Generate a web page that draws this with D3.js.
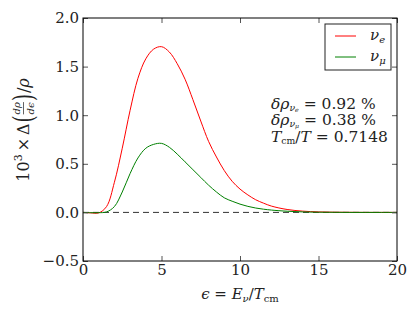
<!DOCTYPE html>
<html>
<head>
<meta charset="utf-8">
<script src="https://cdn.jsdelivr.net/npm/d3@7"></script>
<style>
  body { margin: 0; background: #fff; }
  svg { display: block; }
  svg text { font-family: "DejaVu Serif", "Liberation Serif", serif; }
</style>
</head>
<body>
<svg id="chart" width="415" height="312"></svg>
<script>
// energy grid (epsilon = E_nu / T_cm)
const eps = [0, 0.5, 1, 1.5, 2, 2.5, 3, 3.5, 4, 4.5, 5, 5.5, 6, 6.5, 7, 7.5, 8, 8.5, 9, 9.5,
             10, 10.5, 11, 11.5, 12, 13, 14, 15, 16, 17, 18, 19, 20];
// 10^3 x Delta(drho/deps)/rho
const nuE = [0, -0.005, -0.005, 0.06, 0.31, 0.66, 1.05, 1.38, 1.58, 1.68, 1.705, 1.65, 1.53, 1.37, 1.16, 0.94, 0.73, 0.57, 0.43, 0.32,
             0.24, 0.18, 0.13, 0.095, 0.065, 0.03, 0.013, 0.005, 0.002, 0.001, 0, 0, 0];
const nuMu = [0, -0.003, -0.003, 0.005, 0.06, 0.21, 0.40, 0.56, 0.66, 0.70, 0.71, 0.67, 0.60, 0.52, 0.44, 0.36, 0.28, 0.21, 0.15, 0.115,
              0.085, 0.062, 0.045, 0.033, 0.024, 0.012, 0.005, 0.002, 0.001, 0, 0, 0, 0];
const xTicks = [0, 5, 10, 15, 20];
const yTicks = [-0.5, 0, 0.5, 1.0, 1.5, 2.0];
const noteValues = ["0.92 %", "0.38 %", "0.7148"];

const svg = d3.select("#chart");
const pL = 83, pR = 397, pT = 18, pB = 261;

const x = d3.scaleLinear().domain([0, 20]).range([pL, pR]);
const y = d3.scaleLinear().domain([-0.5, 2.0]).range([pB, pT]);

// zero line
svg.append("line")
    .attr("x1", x(0)).attr("x2", x(20))
    .attr("y1", y(0)).attr("y2", y(0))
    .attr("stroke", "#333")
    .attr("stroke-width", 1)
    .attr("stroke-dasharray", "6,4");

const line = d3.line().curve(d3.curveCatmullRom);

svg.append("path")
    .attr("d", line(eps.map((e, i) => [x(e), y(nuE[i])])))
    .attr("fill", "none").attr("stroke", "#ff0000").attr("stroke-width", 1);

svg.append("path")
    .attr("d", line(eps.map((e, i) => [x(e), y(nuMu[i])])))
    .attr("fill", "none").attr("stroke", "#008000").attr("stroke-width", 1);

// axes, ticks pointing inward
function styleAxis(g) {
    g.attr("font-family", null);
    g.select(".domain").remove();
    g.selectAll(".tick line").attr("stroke", "#555");
    g.selectAll(".tick text").attr("font-size", "15px").attr("fill", "#222");
}

svg.append("g")
    .attr("transform", `translate(0,${pB})`)
    .call(d3.axisBottom(x).tickValues(xTicks).tickSizeInner(-5).tickSizeOuter(0).tickPadding(3)
        .tickFormat(d3.format("d")))
    .call(styleAxis);

svg.append("g")
    .attr("transform", `translate(0,${pT})`)
    .call(d3.axisTop(x).tickValues(xTicks).tickSizeInner(-5).tickSizeOuter(0).tickFormat(""))
    .call(styleAxis);

svg.append("g")
    .attr("transform", `translate(${pL},0)`)
    .call(d3.axisLeft(y).tickValues(yTicks).tickSizeInner(-5).tickSizeOuter(0).tickPadding(4)
        .tickFormat(d3.format(".1f")))
    .call(styleAxis);

svg.append("g")
    .attr("transform", `translate(${pR},0)`)
    .call(d3.axisRight(y).tickValues(yTicks).tickSizeInner(-5).tickSizeOuter(0).tickFormat(""))
    .call(styleAxis);

// frame
svg.append("rect")
    .attr("x", pL).attr("y", pT)
    .attr("width", pR - pL).attr("height", pB - pT)
    .attr("fill", "none").attr("stroke", "#000").attr("stroke-width", 1);

// x label
const xl = svg.append("text")
    .attr("x", (pL + pR) / 2).attr("y", 299)
    .attr("text-anchor", "middle").attr("font-size", "15px").attr("fill", "#222");
xl.append("tspan").attr("font-style", "italic").text("ϵ");
xl.append("tspan").text(" = ");
xl.append("tspan").attr("font-style", "italic").text("E");
xl.append("tspan").attr("font-style", "italic").attr("font-size", "10px").attr("dy", 3).text("ν");
xl.append("tspan").attr("dy", -3).text("/");
xl.append("tspan").attr("font-style", "italic").text("T");
xl.append("tspan").attr("font-size", "10px").attr("dy", 3).text("cm");

// y label, built piece by piece inside a rotated group
const yl = svg.append("g").attr("transform", "translate(29,130) rotate(-90)");
let cx = 0;
function piece(txt, opts) {
    const t = yl.append("text").attr("x", cx).attr("y", opts.dy || 0)
        .attr("font-size", (opts.size || 16) + "px").attr("fill", "#222")
        .attr("font-style", opts.italic ? "italic" : "normal")
        .text(txt);
    if (opts.scaleY) t.attr("transform", `translate(0,${opts.ty || 0}) scale(1,${opts.scaleY})`).attr("y", 0);
    const w = t.node().getComputedTextLength();
    cx += w + (opts.gap || 0);
    return t;
}
piece("10", {});
piece("3", { size: 11, dy: -7, gap: 3 });
piece("×", { gap: 3 });
piece("Δ", { gap: 1 });
piece("(", { size: 18, scaleY: 1.5, ty: 4 });
// stacked fraction
const fx = cx + 1;
const num = yl.append("text").attr("x", fx).attr("y", -9).attr("font-size", "10px")
    .attr("font-style", "italic").attr("fill", "#222").text("dρ");
const den = yl.append("text").attr("x", fx).attr("y", 5).attr("font-size", "10px")
    .attr("font-style", "italic").attr("fill", "#222").text("dϵ");
const fw = Math.max(num.node().getComputedTextLength(), den.node().getComputedTextLength());
yl.append("line").attr("x1", fx).attr("x2", fx + fw)
    .attr("y1", -5.5).attr("y2", -5.5).attr("stroke", "#222").attr("stroke-width", 0.7);
cx = fx + fw + 1;
piece(")", { size: 18, scaleY: 1.5, ty: 4, gap: 1 });
piece("/", {});
piece("ρ", { italic: true });
const total = cx;
yl.selectAll("text, line").each(function () {
    const el = d3.select(this);
    if (this.tagName === "line") {
        el.attr("x1", +el.attr("x1") - total / 2).attr("x2", +el.attr("x2") - total / 2);
    } else {
        el.attr("x", +el.attr("x") - total / 2);
    }
});

// legend
const legend = svg.append("g");
legend.append("rect")
    .attr("x", 325).attr("y", 24).attr("width", 66).attr("height", 46)
    .attr("fill", "#fff").attr("stroke", "#222").attr("stroke-width", 1);
const legendItems = [
    { sub: "e", color: "#ff0000" },
    { sub: "μ", color: "#008000" }
];
legendItems.forEach((d, i) => {
    const ly = 36 + i * 21;
    legend.append("line").attr("x1", 335).attr("x2", 356).attr("y1", ly).attr("y2", ly)
        .attr("stroke", d.color).attr("stroke-width", 1);
    const t = legend.append("text").attr("x", 370).attr("y", ly + 4)
        .attr("font-size", "15px").attr("font-style", "italic").attr("fill", "#222");
    t.append("tspan").text("ν");
    t.append("tspan").attr("font-size", "10px").attr("dy", 3).text(d.sub);
});

// annotation text, three left-aligned lines
const noteX = 271;
const noteY = [109, 125, 142];
const notes = svg.append("g").attr("fill", "#222").attr("font-size", "15px");

[["e", 0], ["μ", 1]].forEach(([s, i]) => {
    const t = notes.append("text").attr("x", noteX).attr("y", noteY[i]);
    t.append("tspan").attr("font-style", "italic").text("δρ");
    t.append("tspan").attr("font-style", "italic").attr("font-size", "9px").attr("dy", 2).text("ν");
    t.append("tspan").attr("font-style", "italic").attr("font-size", "6px").attr("dy", 1).text(s);
    t.append("tspan").attr("dy", -3).text(" = " + noteValues[i]);
});

const n3 = notes.append("text").attr("x", noteX).attr("y", noteY[2]);
n3.append("tspan").attr("font-style", "italic").text("T");
n3.append("tspan").attr("font-size", "9px").attr("dy", 2).text("cm");
n3.append("tspan").attr("dy", -2).text("/");
n3.append("tspan").attr("font-style", "italic").text("T");
n3.append("tspan").text(" = " + noteValues[2]);

// squeeze the block so the last line ends where the reference's does
const w3 = n3.node().getBBox().width;
const sx = Math.min(1.2, 117 / w3);
notes.attr("transform", `translate(${noteX},0) scale(${sx},1) translate(${-noteX},0)`);
</script>
</body>
</html>
